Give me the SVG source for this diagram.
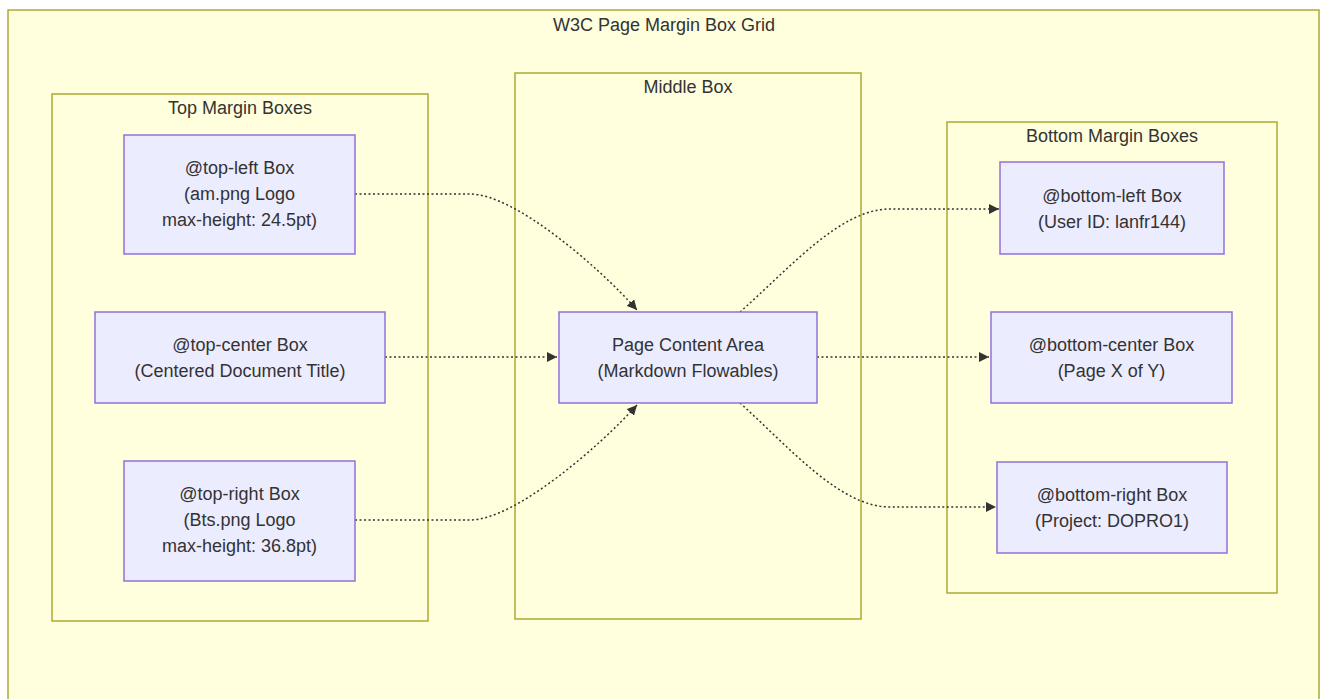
<svg xmlns="http://www.w3.org/2000/svg" width="1320" height="699" viewBox="0 0 1320 699">
<defs>
<style>
.cluster{fill:#ffffde;stroke:#aaaa33;stroke-width:1.5}
.node rect{fill:#ECECFF;stroke:#9370DB;stroke-width:1.5}
text{font-family:"Liberation Sans",Arial,sans-serif;font-size:18px;fill:#333;text-anchor:middle}
.edge{fill:none;stroke:#333;stroke-width:1.5;stroke-dasharray:2 2.5}
</style>
<marker id="arrow" viewBox="0 0 10 10" refX="10" refY="5" markerWidth="10" markerHeight="10" markerUnits="userSpaceOnUse" orient="auto">
<path d="M0,0 L10,5 L0,10 z" fill="#333"/>
</marker>
</defs>
<rect width="1320" height="699" fill="#ffffff"/>
<g id="outer">
<rect class="cluster" x="8" y="10" width="1311" height="700"/>
<text x="664" y="31">W3C Page Margin Box Grid</text>
</g>
<g id="top-margin">
<rect class="cluster" x="52" y="94" width="376" height="527"/>
<text x="240" y="114">Top Margin Boxes</text>
</g>
<g id="middle">
<rect class="cluster" x="515" y="73" width="346" height="546"/>
<text x="688" y="93">Middle Box</text>
</g>
<g id="bottom-margin">
<rect class="cluster" x="947" y="122" width="330" height="471"/>
<text x="1112" y="142">Bottom Margin Boxes</text>
</g>
<g id="connectors">
<path class="edge" d="M355,194 L470,194 C515,194 600,268 637,310" marker-end="url(#arrow)"/>
<path class="edge" d="M385,357 L557,357" marker-end="url(#arrow)"/>
<path class="edge" d="M355,520 L470,520 C515,520 600,446 637,405" marker-end="url(#arrow)"/>
<path class="edge" d="M740,312 C790,268 840,209 890,209 L999,209" marker-end="url(#arrow)"/>
<path class="edge" d="M817,357 L989,357" marker-end="url(#arrow)"/>
<path class="edge" d="M740,403 C790,448 840,507 890,507 L996,507" marker-end="url(#arrow)"/>
</g>
<g id="top-left" class="node">
<rect x="124" y="135" width="231" height="119"/>
<text x="239.5" y="174">@top-left Box</text>
<text x="239.5" y="200">(am.png Logo</text>
<text x="239.5" y="226">max-height: 24.5pt)</text>
</g>
<g id="top-center" class="node">
<rect x="95" y="312" width="290" height="91"/>
<text x="240" y="351">@top-center Box</text>
<text x="240" y="377">(Centered Document Title)</text>
</g>
<g id="top-right" class="node">
<rect x="124" y="461" width="231" height="120"/>
<text x="239.5" y="500">@top-right Box</text>
<text x="239.5" y="526">(Bts.png Logo</text>
<text x="239.5" y="552">max-height: 36.8pt)</text>
</g>
<g id="content" class="node">
<rect x="559" y="312" width="258" height="91"/>
<text x="688" y="351">Page Content Area</text>
<text x="688" y="377">(Markdown Flowables)</text>
</g>
<g id="bottom-left" class="node">
<rect x="1000" y="162" width="224" height="92"/>
<text x="1112" y="201.5">@bottom-left Box</text>
<text x="1112" y="227.5">(User ID: lanfr144)</text>
</g>
<g id="bottom-center" class="node">
<rect x="991" y="312" width="241" height="91"/>
<text x="1111.5" y="351">@bottom-center Box</text>
<text x="1111.5" y="377">(Page X of Y)</text>
</g>
<g id="bottom-right" class="node">
<rect x="997" y="462" width="230" height="91"/>
<text x="1112" y="501">@bottom-right Box</text>
<text x="1112" y="527">(Project: DOPRO1)</text>
</g>
</svg>
